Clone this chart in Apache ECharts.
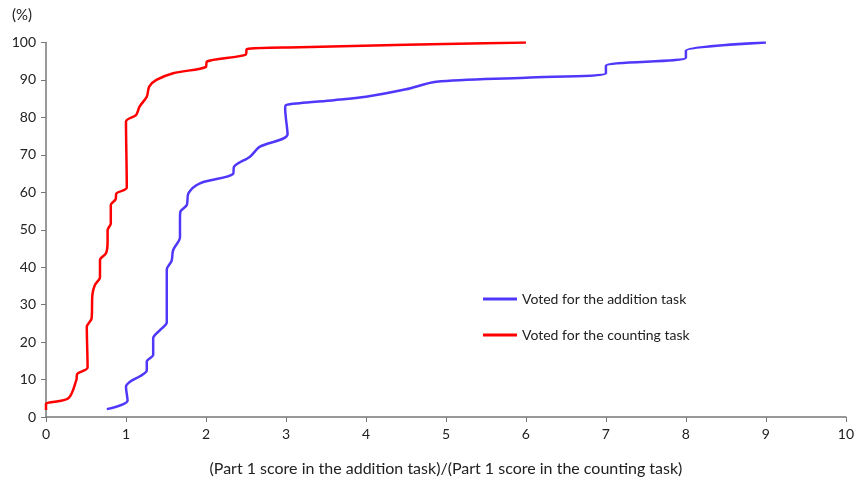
<!DOCTYPE html>
<html><head><meta charset="utf-8">
<script src="https://cdn.jsdelivr.net/npm/echarts@6/dist/echarts.min.js"></script>
<style>html,body{margin:0;padding:0;background:#fff}#c{width:857px;height:482px}</style>
</head><body><div id="c"></div>
<script>
const xTicks = [0,1,2,3,4,5,6,7,8,9,10];
const yTicks = [0,10,20,30,40,50,60,70,80,90,100];
const additionX = [0.76,1.02,1.0,1.05,1.175,1.26,1.26,1.34,1.34,1.425,1.51,1.51,1.57,1.59,1.675,1.675,1.68,1.76,1.78,1.925,2.34,2.35,2.55,2.675,3.02,2.99,3.0,3.17,3.6,4.0,4.5,4.88,6.0,7.0,7.0,8.0,8.0,9.0];
const additionY = [2.1,4.4,8.1,9.4,10.9,12.4,14.8,16.6,21.0,23.2,25.3,39.4,41.7,44.6,48.0,52.6,54.8,56.6,59.7,62.4,64.9,66.8,69.5,72.2,75.5,82.4,83.3,83.8,84.6,85.5,87.5,89.5,90.6,91.8,93.8,95.9,97.8,100];
const countingX = [0,0,0.28,0.38,0.39,0.52,0.51,0.57,0.58,0.61,0.675,0.675,0.75,0.77,0.77,0.81,0.81,0.87,0.88,1.01,1.0,1.125,1.17,1.26,1.29,1.38,1.59,2.0,2.01,2.5,2.51,3.17,4.5,6.0];
const countingY = [1.9,3.4,5.0,9.9,11.5,13.2,24.1,26.3,32.6,35.2,37.3,41.9,43.7,46.8,49.9,51.7,56.6,58.1,59.7,61.3,78.9,80.6,82.9,85.5,88.2,90.0,91.8,93.5,94.9,96.8,98.2,98.7,99.4,100];
const seriesNames = ['Voted for the addition task','Voted for the counting task'];

const font = 'Lato, "Open Sans", sans-serif';
const chart = echarts.init(document.getElementById('c'));
const zip = (a,b)=>a.map((v,i)=>[v,b[i]]);
chart.setOption({
  animation:false,
  grid:{left:46,right:11,top:42.5,bottom:65},
  xAxis:{type:'value',min:0,max:10,interval:1,
    name:'(Part 1 score in the addition task)/(Part 1 score in the counting task)',
    nameLocation:'middle',nameGap:44,
    nameTextStyle:{fontFamily:font,fontSize:16,color:'#222'},
    axisLine:{lineStyle:{color:'#777',width:1.5}},
    axisTick:{show:true,length:5,lineStyle:{color:'#777'}},
    axisLabel:{fontFamily:font,fontSize:14,color:'#222',margin:10},
    splitLine:{show:false}},
  yAxis:{type:'value',min:0,max:100,interval:10,
    axisLine:{show:true,lineStyle:{color:'#777',width:1.5}},
    axisTick:{show:true,length:5,lineStyle:{color:'#777'}},
    axisLabel:{fontFamily:font,fontSize:14,color:'#222',margin:10},
    splitLine:{show:false}},
  graphic:[{type:'text',left:12,top:8,style:{text:'(%)',font:'15px '+font,fill:'#222'}}],
  legend:{orient:'vertical',left:478,top:287,itemGap:22,itemWidth:34,itemHeight:3,icon:'rect',
    textStyle:{fontFamily:font,fontSize:14,color:'#222'},
    data:seriesNames},
  series:[
    {name:seriesNames[0],type:'line',smooth:0.3,symbol:'none',data:zip(additionX,additionY),
     lineStyle:{color:'#5038FA',width:2.5},itemStyle:{color:'#5038FA'}},
    {name:seriesNames[1],type:'line',smooth:0.3,symbol:'none',data:zip(countingX,countingY),
     lineStyle:{color:'#FF0000',width:2.5},itemStyle:{color:'#FF0000'}}
  ]
});
</script></body></html>
